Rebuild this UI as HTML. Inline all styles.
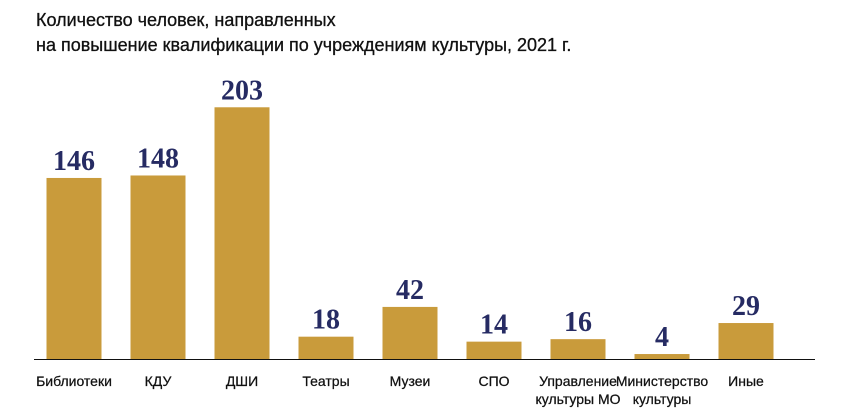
<!DOCTYPE html>
<html><head><meta charset="utf-8">
<style>
body{margin:0;background:#fff;width:850px;height:410px;overflow:hidden;font-family:"Liberation Sans",sans-serif}
.title{position:absolute;left:36px;top:8px;font-size:18px;line-height:25px;color:#111;-webkit-text-stroke:0.3px #111}
</style></head><body>
<div class="title">Количество человек, направленных<br>на повышение квалификации по учреждениям культуры, 2021 г.</div>
<svg id="chart" width="850" height="410" style="position:absolute;left:0;top:0"></svg>
<script>
const categories=["Библиотеки","КДУ","ДШИ","Театры","Музеи","СПО","Управление|культуры МО","Министерство|культуры","Иные"];
const values=[146,148,203,18,42,14,16,4,29];
const NS="http://www.w3.org/2000/svg";
const svg=document.getElementById('chart');
const baseY=359, x0=74, step=84, bw=55;
function xScale(i){return x0+i*step;}
function yScale(v){return baseY-v*1.24;}
function mk(t,a){const e=document.createElementNS(NS,t);for(const k in a)e.setAttribute(k,a[k]);svg.appendChild(e);return e;}
values.forEach((v,i)=>{
  const cx=xScale(i),top=yScale(v);
  const r=mk('rect',{x:cx-bw/2,y:top,width:bw,height:baseY-top,fill:'#c99b3b'});
  
  
  const t=mk('text',{x:cx,y:top-8,'text-anchor':'middle','font-family':'Liberation Serif, serif','font-weight':'bold','font-size':'28',fill:'#262b63'});
  t.textContent=v;
  
  
  const lines=categories[i].split('|');
  lines.forEach((ln,j)=>{
    const c=mk('text',{x:cx,y:386+j*18,'text-anchor':'middle','font-size':'14',fill:'#111',stroke:'#111','stroke-width':'0.25'});
    c.textContent=ln;
    
    
  });
});
const ax=mk('line',{x1:34,x2:815,y1:baseY+0.5,y2:baseY+0.5,stroke:'#111','stroke-width':1});


</script>
</body></html>
